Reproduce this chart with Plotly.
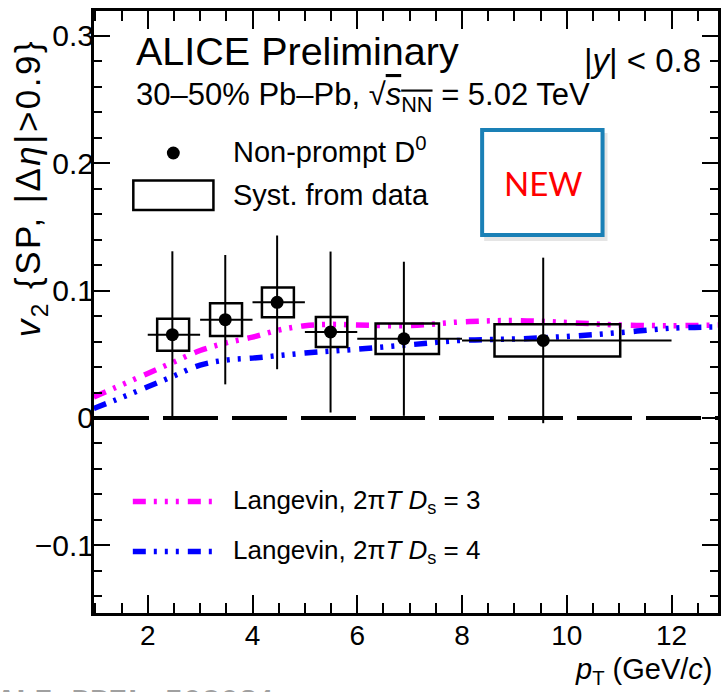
import plotly.graph_objects as go

# ---------------- data ----------------
pt = [2.47, 3.48, 4.47, 5.49, 6.89, 9.55]
pt_lo = [2, 3, 4, 5, 6, 8]
pt_hi = [3, 4, 5, 6, 8, 12]
v2 = [0.0654, 0.0772, 0.0908, 0.0675, 0.0622, 0.0609]
v2_stat = [0.0655, 0.0508, 0.0525, 0.0632, 0.0605, 0.0650]
v2_syst = [0.0126, 0.0128, 0.0116, 0.0118, 0.0120, 0.0127]
syst_box_lo = [2.18, 3.19, 4.18, 5.21, 6.35, 8.62]
syst_box_hi = [2.79, 3.80, 4.79, 5.81, 7.56, 11.02]

model_pt = [0.97, 1.5, 2.0, 2.5, 3.0, 3.5, 4.0, 4.5, 5.0, 5.5, 6.0, 7.0, 8.0, 9.0, 10.0, 11.0, 12.0, 12.9]
langevin3 = [0.0165, 0.026, 0.035, 0.044, 0.053, 0.059, 0.0635, 0.069, 0.0725, 0.0735, 0.073, 0.0725,
             0.0755, 0.0765, 0.075, 0.073, 0.0725, 0.073]
langevin4 = [0.0075, 0.016, 0.0245, 0.033, 0.0415, 0.0455, 0.047, 0.049, 0.051, 0.0525, 0.054, 0.0575,
             0.061, 0.062, 0.064, 0.067, 0.0705, 0.0715]

y_tickvals = [-0.1, 0, 0.1, 0.2, 0.3]
y_ticktext = ["\u22120.1", "0", "0.1", "0.2", "0.3"]
x_tickvals = [2, 4, 6, 8, 10, 12]

# ---------------- layout geometry ----------------
W, H = 722, 692
L, R, T, B = 94, 1, 11, 79
PW, PH = W - L - R, H - T - B


def px(x):
    return (x - L) / PW


def py(y):
    return (H - B - y) / PH


FONT = "Liberation Sans, Arial, Helvetica, sans-serif"
DASH = "13px,8px,3px,8px,3px,8px,3px,9px"
MAGENTA = "#ff00ff"
BLUE = "#0000ff"

fig = go.Figure()

# model curves
fig.add_trace(go.Scatter(x=model_pt, y=langevin3, mode="lines", line=dict(color=MAGENTA, width=5.5, dash=DASH, shape="spline"),
                         showlegend=False, hoverinfo="skip"))
fig.add_trace(go.Scatter(x=model_pt, y=langevin4, mode="lines", line=dict(color=BLUE, width=5.5, dash=DASH, shape="spline"),
                         showlegend=False, hoverinfo="skip"))

# data points
fig.add_trace(go.Scatter(
    x=pt, y=v2, mode="markers",
    marker=dict(color="black", size=13, symbol="circle"),
    error_y=dict(type="data", array=v2_stat, color="black", thickness=2, width=0),
    error_x=dict(type="data", array=[h - p for h, p in zip(pt_hi, pt)],
                 arrayminus=[p - l for p, l in zip(pt, pt_lo)], color="black", thickness=2, width=0),
    showlegend=False))

shapes = []
# zero line
shapes.append(dict(type="line", xref="paper", yref="y", x0=0, x1=1, y0=0, y1=0,
                   line=dict(color="black", width=4, dash="55px,14px"), layer="above"))
# syst boxes
for lo, hi, v, s in zip(syst_box_lo, syst_box_hi, v2, v2_syst):
    shapes.append(dict(type="rect", xref="x", yref="y", x0=lo, x1=hi, y0=v - s, y1=v + s,
                       line=dict(color="black", width=2.5), fillcolor="rgba(0,0,0,0)", layer="above"))

# legend (top)
shapes.append(dict(type="circle", xref="paper", yref="paper", x0=px(167.2), x1=px(180.2), y0=py(146.5), y1=py(159.5),
                   fillcolor="black", line=dict(color="black", width=0)))
shapes.append(dict(type="rect", xref="paper", yref="paper", x0=px(133.5), x1=px(214), y0=py(180.5), y1=py(210),
                   line=dict(color="black", width=2.5), fillcolor="white"))
# legend (bottom)
shapes.append(dict(type="line", xref="paper", yref="paper", x0=px(133), x1=px(213), y0=py(501.5), y1=py(501.5),
                   line=dict(color=MAGENTA, width=5.5, dash=DASH)))
shapes.append(dict(type="line", xref="paper", yref="paper", x0=px(133), x1=px(213), y0=py(551.5), y1=py(551.5),
                   line=dict(color=BLUE, width=5.5, dash=DASH)))
# NEW box with shadow
shapes.append(dict(type="rect", xref="paper", yref="paper", x0=px(486), x1=px(610), y0=py(133), y1=py(241),
                   line=dict(width=0), fillcolor="rgba(0,0,0,0.10)"))
shapes.append(dict(type="rect", xref="paper", yref="paper", x0=px(484), x1=px(605), y0=py(130), y1=py(235),
                   line=dict(color="#1a80b6", width=4), fillcolor="white"))

annotations = []


def txt(text, x, y, size, xanchor="left", yanchor="middle", color="black", family=FONT, angle=0):
    annotations.append(dict(text=text, x=px(x), y=py(y), xref="paper", yref="paper", showarrow=False,
                            xanchor=xanchor, yanchor=yanchor, textangle=angle,
                            font=dict(size=size, color=color, family=family)))


txt("ALICE Preliminary", 134, 51, 39.5)
txt("30\u201350% Pb\u2013Pb, \u221a<span style=\"text-decoration:overline\"><i>s</i><sub>NN</sub></span> = 5.02 TeV", 134, 97, 31)
txt("|<i>y</i>| &lt; 0.8", 706, 60, 33, xanchor="right")
txt("Non-prompt D<sup>0</sup>", 232, 150, 29)
txt("Syst. from data", 232, 195, 29)
txt("NEW", 545, 183, 33, xanchor="center", color="#ff0000", family="Lato, Open Sans, sans-serif")
txt("Langevin, 2\u03c0<i>T</i> <i>D</i><sub>s</sub> = 3", 232, 501, 26)
txt("Langevin, 2\u03c0<i>T</i> <i>D</i><sub>s</sub> = 4", 232, 551, 26)
txt("<i>p</i><sub>T</sub> (GeV/<i>c</i>)", 718, 671, 29, xanchor="right")
txt("<span style=\"letter-spacing:2.5px\"><i>v</i><sub>2</sub> {SP, |\u0394<i>\u03b7</i>|&gt;0.9}</span>",
    30, 188, 35, xanchor="center", angle=-90)
txt("<b>ALI-PREL-503081</b>", -5, 683, 31, yanchor="top", color="#a0a0a0", family="Liberation Mono, Courier New, monospace")

fig.update_layout(
    width=W, height=H, margin=dict(l=L, r=R, t=T, b=B, pad=0),
    paper_bgcolor="white", plot_bgcolor="white",
    shapes=shapes, annotations=annotations, showlegend=False,
    font=dict(family=FONT, color="black"),
    xaxis=dict(range=[0.974, 12.887], tickvals=x_tickvals, ticks="inside", ticklen=18, tickwidth=2, tickcolor="black",
               minor=dict(dtick=0.5, tick0=0, ticks="inside", ticklen=10, tickwidth=2, tickcolor="black"),
               showline=True, linewidth=3, linecolor="black", mirror="allticks", showgrid=False, zeroline=False,
               tickfont=dict(size=28, family=FONT), ticklabelstandoff=-5),
    yaxis=dict(range=[-0.15315, 0.3196], tickvals=y_tickvals, ticktext=y_ticktext, ticks="inside", ticklen=16,
               tickwidth=2, tickcolor="black",
               minor=dict(dtick=0.02, tick0=0, ticks="inside", ticklen=8, tickwidth=2, tickcolor="black"),
               showline=True, linewidth=3, linecolor="black", mirror="allticks", showgrid=False, zeroline=False,
               tickfont=dict(size=30, family=FONT), ticklabelstandoff=-9),
)

fig.write_html("out.html")
